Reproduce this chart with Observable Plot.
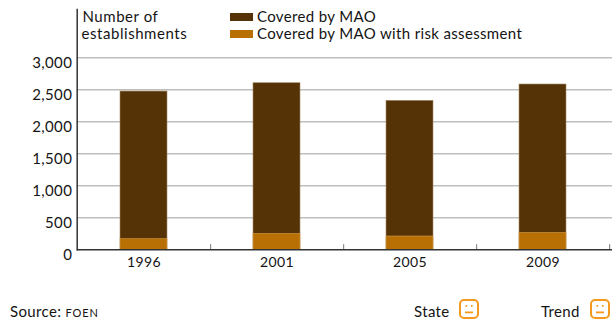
<!DOCTYPE html>
<html>
<head>
<meta charset="utf-8">
<script src="https://cdn.jsdelivr.net/npm/d3@7"></script>
<script src="https://cdn.jsdelivr.net/npm/@observablehq/plot@0.6"></script>
<style>
  html, body { margin: 0; padding: 0; background: #fff; }
  #chart { position: relative; width: 612px; height: 325px; overflow: hidden;
           font-family: Lato, sans-serif; color: #141414; font-size: 15px; letter-spacing: 0.35px; }
  #chart svg { display: block; }
  .note { position: absolute; white-space: nowrap; line-height: 18px; }
  .swatch { position: absolute; width: 23px; height: 8px; }
  .face { position: absolute; width: 20px; height: 20px; }
  .caps { font-variant: small-caps; letter-spacing: 0.9px; }
</style>
</head>
<body>
<div id="chart"></div>
<script>
// Establishments covered by the Major Accidents Ordinance, by survey year
const years = ["1996", "2001", "2005", "2009"];
const coveredTotal = [2473, 2603, 2328, 2583];
const coveredWithRisk = [166, 250, 208, 265];
const gridValues = [500, 1000, 1500, 2000, 2500, 3000];
const tickValues = [0, 500, 1000, 1500, 2000, 2500, 3000];
const seriesNames = ["Covered by MAO", "Covered by MAO with risk assessment"];
const seriesColors = ["#553307", "#b87004"];
const yAxisTitle = ["Number of", "establishments"];

const rows = years.map((year, i) => ({year, total: coveredTotal[i], risk: coveredWithRisk[i]}));
const left = 76.7, bandStart = 75.9, bandEnd = 609.3;
const halfStep = (bandEnd - bandStart) / years.length / 2;

const plot = Plot.plot({
  width: 612,
  height: 325,
  marginTop: 9,
  marginBottom: 75.7,
  marginLeft: left,
  marginRight: 0,
  style: {fontFamily: "Lato, sans-serif", fontSize: "15px", color: "#141414", letterSpacing: "0.35px"},
  x: {type: "band", domain: years, range: [bandStart, bandEnd], paddingInner: 0.65, paddingOuter: 0.325, align: 0.5, label: null},
  y: {domain: [0, 3755], label: null},
  marks: [
    Plot.ruleY(gridValues, {stroke: "#bdbdbd", strokeWidth: 1.5}),
    Plot.barY(rows, {x: "year", y: "total", fill: seriesColors[0], stroke: "#a58a68", strokeWidth: 0.6}),
    Plot.barY(rows, {x: "year", y: "risk", fill: seriesColors[1], stroke: "#cf9a4a", strokeWidth: 0.6}),
    // Short separators on the baseline between the survey years
    Plot.ruleX(years, {x: d => d, dx: halfStep, y1: 0, y2: 80, stroke: "#777", strokeWidth: 1}),
    Plot.ruleY([0], {stroke: "#333", strokeWidth: 1.5}),
    Plot.frame({anchor: "left", stroke: "#333", strokeWidth: 1.5}),
    Plot.axisY(tickValues, {anchor: "left", tickSize: 0, tickPadding: 5, dy: 5.5, tickFormat: d3.format(","), label: null, textStroke: "none"}),
    Plot.axisX(years, {anchor: "bottom", tickSize: 0, tickPadding: 7, fontSize: 14, label: null})
  ]
});

const chart = document.getElementById("chart");
chart.append(plot);

function note(text, x, y, spacing) {
  const el = document.createElement("div");
  el.className = "note";
  el.style.left = x + "px";
  el.style.top = y + "px";
  if (spacing) el.style.letterSpacing = spacing + "px";
  el.innerHTML = text;
  chart.append(el);
}

function swatch(color, x, y) {
  const el = document.createElement("div");
  el.className = "swatch";
  el.style.left = x + "px";
  el.style.top = y + "px";
  el.style.background = color;
  chart.append(el);
}

function face(x, y) {
  const ns = "http://www.w3.org/2000/svg";
  const el = document.createElementNS(ns, "svg");
  el.setAttribute("class", "face");
  el.setAttribute("viewBox", "0 0 20 20");
  el.style.left = x + "px";
  el.style.top = y + "px";
  el.innerHTML = `<rect x="1" y="1" width="18" height="18" rx="4" fill="#fff" stroke="#f39a1e" stroke-width="2"/>
    <rect x="6.5" y="6" width="1.6" height="1.8" fill="#f39a1e"/>
    <rect x="12" y="6" width="1.6" height="1.8" fill="#f39a1e"/>
    <rect x="6" y="12.5" width="8" height="1.8" fill="#f39a1e"/>`;
  chart.append(el);
}

note(yAxisTitle[0], 82.5, 7, 0.55);
note(yAxisTitle[1], 81.5, 24, 0.55);
swatch(seriesColors[0], 230, 13);
swatch(seriesColors[1], 230, 30);
note(seriesNames[0], 257, 7);
note(seriesNames[1], 257, 24);
note('Source: <span class="caps">foen</span>', 10, 302);
note("State", 414, 302);
note("Trend", 541, 302);
face(459, 299);
face(589.5, 299);
</script>
</body>
</html>
